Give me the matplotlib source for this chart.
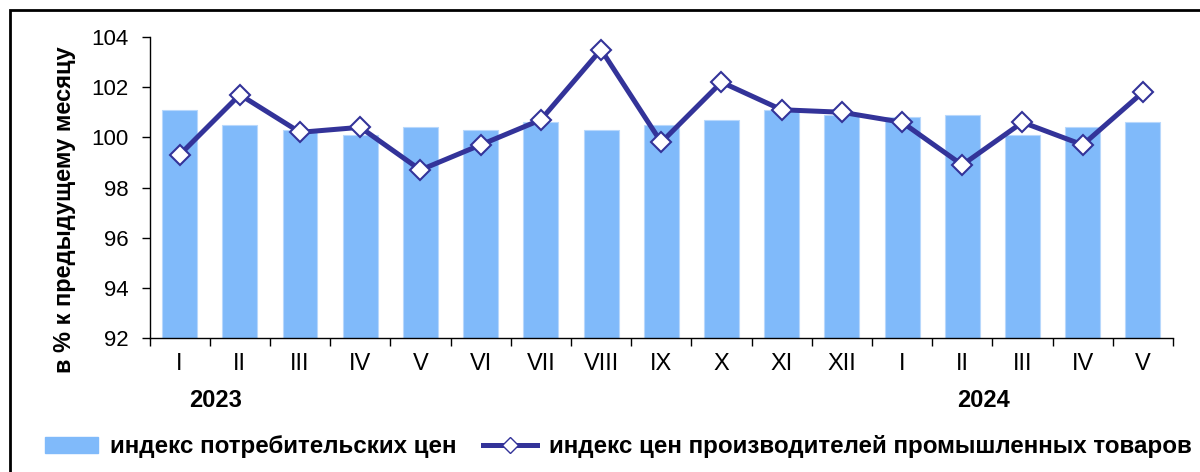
import matplotlib.pyplot as plt
from matplotlib.patches import Rectangle
from matplotlib.lines import Line2D
import numpy as np

plt.rcParams['font.family'] = ['Liberation Sans', 'DejaVu Sans']

months = ['I', 'II', 'III', 'IV', 'V', 'VI', 'VII', 'VIII', 'IX', 'X', 'XI', 'XII',
          'I', 'II', 'III', 'IV', 'V']
cpi = [101.1, 100.5, 100.3, 100.1, 100.4, 100.3, 100.6, 100.3, 100.5, 100.7, 101.1, 100.9,
       100.8, 100.9, 100.1, 100.4, 100.6]
ppi = [99.3, 101.7, 100.2, 100.4, 98.7, 99.7, 100.7, 103.5, 99.8, 102.2, 101.1, 101.0,
       100.6, 98.9, 100.6, 99.7, 101.8]
years = ['2023', '2024']
year_pos = [0.6, 13.35]

bar_color = '#80BAFA'
line_color = '#333399'

fig = plt.figure(figsize=(12, 4.72), dpi=100)
ax = fig.add_axes([0.1246, 0.2839, 0.8529, 0.6377])

x = np.arange(len(months))
ax.bar(x, cpi, width=0.58, color=bar_color, edgecolor='#B8D8FC', linewidth=0.8, zorder=2)
ax.plot(x, ppi, color=line_color, lw=3.6, marker='D', markersize=10,
        markerfacecolor='white', markeredgecolor=line_color, markeredgewidth=1.5, zorder=3)

ax.set_ylim(92, 104)
ax.set_xlim(-0.5, len(months) - 0.5)
ax.set_yticks(np.arange(92, 105, 2))
ax.set_xticks(np.arange(-0.5, len(months), 1))
ax.set_xticklabels([])
ax.set_xticks(x, minor=True)
ax.set_xticklabels(months, minor=True)
ax.tick_params(axis='x', which='major', length=6, direction='out', width=1)
ax.tick_params(axis='x', which='minor', length=0, pad=11, labelsize=17)
ax.tick_params(axis='y', length=6, direction='out', width=1, labelsize=16, pad=9)
for s in ['top', 'right']:
    ax.spines[s].set_visible(False)
for s in ['left', 'bottom']:
    ax.spines[s].set_linewidth(1)

fig.text(65 / 1200, 0.555, 'в % к предыдущему месяцу', rotation=90, ha='center', va='center',
         fontsize=17, fontweight='bold')

for yr, p in zip(years, year_pos):
    ax.text(p, 89.5, yr, ha='center', va='center', fontsize=17, fontweight='bold')

# frame around whole figure
fig.patches.append(Rectangle((10 / 1200, -0.1), 1.2, 1.1 - 10 / 472, transform=fig.transFigure,
                             fill=False, edgecolor='black', linewidth=2))

handles = [Rectangle((0, 0), 1, 1, facecolor=bar_color, edgecolor=bar_color),
           Line2D([], [], color=line_color, lw=3.6, marker='D', markersize=8,
                  markerfacecolor='white', markeredgecolor=line_color)]
labels = ['индекс потребительских цен', 'индекс цен производителей промышленных товаров']
fig.legend(handles, labels, loc='center left', bbox_to_anchor=(0.0375, 0.053), ncol=2,
           frameon=False, prop={'weight': 'bold', 'size': 17.4}, handlelength=2.2,
           columnspacing=1.1, handletextpad=0.5, borderpad=0, borderaxespad=0)

fig.savefig('out.png', dpi=100)
